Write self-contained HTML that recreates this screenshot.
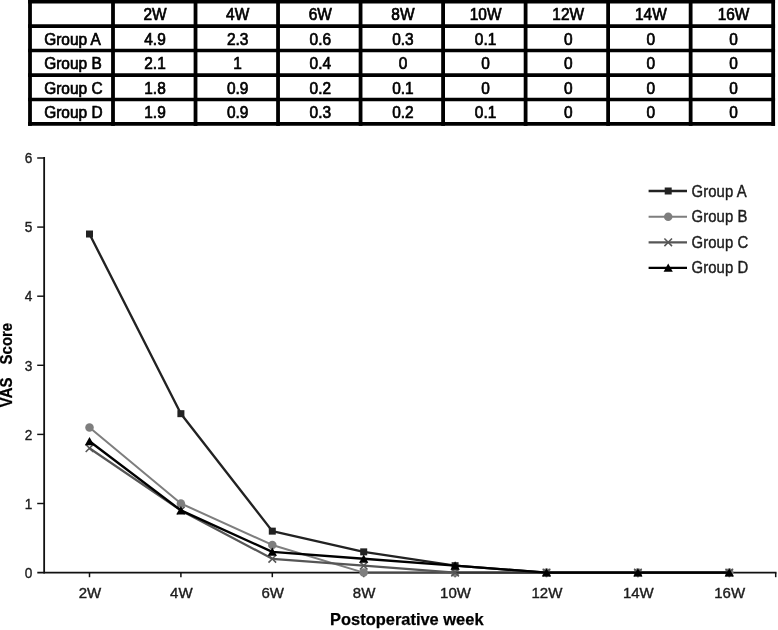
<!DOCTYPE html>
<html><head><meta charset="utf-8"><title>VAS Score</title>
<style>
html,body{margin:0;padding:0;background:#fff;}
body{width:778px;height:630px;overflow:hidden;}
svg{display:block;}
.tb{font-family:"Liberation Sans",sans-serif;font-size:16.7px;fill:#000;stroke:#000;stroke-width:0.7px;}
.ax{font-family:"Liberation Sans",sans-serif;font-size:14.8px;fill:#1c1c1c;stroke:#1c1c1c;stroke-width:0.4px;}
.lg{font-family:"Liberation Sans",sans-serif;font-size:15.6px;letter-spacing:0.1px;fill:#1c1c1c;stroke:#1c1c1c;stroke-width:0.4px;}
.tt{font-family:"Liberation Sans",sans-serif;font-weight:bold;fill:#000;stroke:#000;stroke-width:0.25px;}
</style></head><body>
<svg width="778" height="630" viewBox="0 0 778 630">
<rect width="778" height="630" fill="#fff"/>

<g stroke="#000" stroke-width="3.80" fill="none">
<line x1="30.00" y1="0" x2="30.00" y2="125.85"/>
<line x1="113.00" y1="0" x2="113.00" y2="125.85"/>
<line x1="195.52" y1="0" x2="195.52" y2="125.85"/>
<line x1="278.04" y1="0" x2="278.04" y2="125.85"/>
<line x1="360.56" y1="0" x2="360.56" y2="125.85"/>
<line x1="443.08" y1="0" x2="443.08" y2="125.85"/>
<line x1="525.60" y1="0" x2="525.60" y2="125.85"/>
<line x1="608.12" y1="0" x2="608.12" y2="125.85"/>
<line x1="690.64" y1="0" x2="690.64" y2="125.85"/>
<line x1="773.16" y1="0" x2="773.16" y2="125.85"/>
</g><g stroke="#000" stroke-width="3.7" fill="none">
<line x1="28.10" y1="1.60" x2="775.06" y2="1.60"/>
<line x1="28.10" y1="26.10" x2="775.06" y2="26.10"/>
<line x1="28.10" y1="50.50" x2="775.06" y2="50.50"/>
<line x1="28.10" y1="75.10" x2="775.06" y2="75.10"/>
<line x1="28.10" y1="99.50" x2="775.06" y2="99.50"/>
<line x1="28.10" y1="123.95" x2="775.06" y2="123.95"/>
</g>
<g class="tb">
<text transform="translate(155.00,20.40) scale(0.925,1)" text-anchor="middle">2W</text>
<text transform="translate(237.65,20.40) scale(0.925,1)" text-anchor="middle">4W</text>
<text transform="translate(320.30,20.40) scale(0.925,1)" text-anchor="middle">6W</text>
<text transform="translate(402.95,20.40) scale(0.925,1)" text-anchor="middle">8W</text>
<text transform="translate(485.60,20.40) scale(0.925,1)" text-anchor="middle">10W</text>
<text transform="translate(568.25,20.40) scale(0.925,1)" text-anchor="middle">12W</text>
<text transform="translate(650.90,20.40) scale(0.925,1)" text-anchor="middle">14W</text>
<text transform="translate(733.55,20.40) scale(0.925,1)" text-anchor="middle">16W</text>
<text transform="translate(44.2,44.80) scale(0.925,1)">Group A</text>
<text transform="translate(155.00,44.80) scale(0.925,1)" text-anchor="middle">4.9</text>
<text transform="translate(237.65,44.80) scale(0.925,1)" text-anchor="middle">2.3</text>
<text transform="translate(320.30,44.80) scale(0.925,1)" text-anchor="middle">0.6</text>
<text transform="translate(402.95,44.80) scale(0.925,1)" text-anchor="middle">0.3</text>
<text transform="translate(485.60,44.80) scale(0.925,1)" text-anchor="middle">0.1</text>
<text transform="translate(568.25,44.80) scale(0.925,1)" text-anchor="middle">0</text>
<text transform="translate(650.90,44.80) scale(0.925,1)" text-anchor="middle">0</text>
<text transform="translate(733.55,44.80) scale(0.925,1)" text-anchor="middle">0</text>
<text transform="translate(44.2,69.20) scale(0.925,1)">Group B</text>
<text transform="translate(155.00,69.20) scale(0.925,1)" text-anchor="middle">2.1</text>
<text transform="translate(237.65,69.20) scale(0.925,1)" text-anchor="middle">1</text>
<text transform="translate(320.30,69.20) scale(0.925,1)" text-anchor="middle">0.4</text>
<text transform="translate(402.95,69.20) scale(0.925,1)" text-anchor="middle">0</text>
<text transform="translate(485.60,69.20) scale(0.925,1)" text-anchor="middle">0</text>
<text transform="translate(568.25,69.20) scale(0.925,1)" text-anchor="middle">0</text>
<text transform="translate(650.90,69.20) scale(0.925,1)" text-anchor="middle">0</text>
<text transform="translate(733.55,69.20) scale(0.925,1)" text-anchor="middle">0</text>
<text transform="translate(44.2,93.70) scale(0.925,1)">Group C</text>
<text transform="translate(155.00,93.70) scale(0.925,1)" text-anchor="middle">1.8</text>
<text transform="translate(237.65,93.70) scale(0.925,1)" text-anchor="middle">0.9</text>
<text transform="translate(320.30,93.70) scale(0.925,1)" text-anchor="middle">0.2</text>
<text transform="translate(402.95,93.70) scale(0.925,1)" text-anchor="middle">0.1</text>
<text transform="translate(485.60,93.70) scale(0.925,1)" text-anchor="middle">0</text>
<text transform="translate(568.25,93.70) scale(0.925,1)" text-anchor="middle">0</text>
<text transform="translate(650.90,93.70) scale(0.925,1)" text-anchor="middle">0</text>
<text transform="translate(733.55,93.70) scale(0.925,1)" text-anchor="middle">0</text>
<text transform="translate(44.2,118.10) scale(0.925,1)">Group D</text>
<text transform="translate(155.00,118.10) scale(0.925,1)" text-anchor="middle">1.9</text>
<text transform="translate(237.65,118.10) scale(0.925,1)" text-anchor="middle">0.9</text>
<text transform="translate(320.30,118.10) scale(0.925,1)" text-anchor="middle">0.3</text>
<text transform="translate(402.95,118.10) scale(0.925,1)" text-anchor="middle">0.2</text>
<text transform="translate(485.60,118.10) scale(0.925,1)" text-anchor="middle">0.1</text>
<text transform="translate(568.25,118.10) scale(0.925,1)" text-anchor="middle">0</text>
<text transform="translate(650.90,118.10) scale(0.925,1)" text-anchor="middle">0</text>
<text transform="translate(733.55,118.10) scale(0.925,1)" text-anchor="middle">0</text>
</g>
<g stroke="#111" stroke-width="1.8" fill="none">
<line x1="44.15" y1="157.05" x2="44.15" y2="573.55"/>
<line x1="37.3" y1="572.60" x2="776.5" y2="572.60"/>
<line x1="37.2" y1="503.50" x2="44.15" y2="503.50" stroke-width="1.45"/>
<line x1="37.2" y1="434.40" x2="44.15" y2="434.40" stroke-width="1.45"/>
<line x1="37.2" y1="365.30" x2="44.15" y2="365.30" stroke-width="1.45"/>
<line x1="37.2" y1="296.20" x2="44.15" y2="296.20" stroke-width="1.45"/>
<line x1="37.2" y1="227.10" x2="44.15" y2="227.10" stroke-width="1.45"/>
<line x1="37.2" y1="158.00" x2="44.15" y2="158.00" stroke-width="1.45"/>
<line x1="89.50" y1="572.60" x2="89.50" y2="577.20" stroke-width="1.5"/>
<line x1="180.90" y1="572.60" x2="180.90" y2="577.20" stroke-width="1.5"/>
<line x1="272.30" y1="572.60" x2="272.30" y2="577.20" stroke-width="1.5"/>
<line x1="363.70" y1="572.60" x2="363.70" y2="577.20" stroke-width="1.5"/>
<line x1="455.10" y1="572.60" x2="455.10" y2="577.20" stroke-width="1.5"/>
<line x1="546.50" y1="572.60" x2="546.50" y2="577.20" stroke-width="1.5"/>
<line x1="637.90" y1="572.60" x2="637.90" y2="577.20" stroke-width="1.5"/>
<line x1="729.30" y1="572.60" x2="729.30" y2="577.20" stroke-width="1.5"/>
<line x1="775.7" y1="572.60" x2="775.7" y2="577.20" stroke-width="1.5"/>
</g>
<g class="ax">
<text font-size="15.5" transform="translate(32.3,577.85) scale(0.88,1)" text-anchor="end">0</text>
<text font-size="15.5" transform="translate(32.3,508.75) scale(0.88,1)" text-anchor="end">1</text>
<text font-size="15.5" transform="translate(32.3,439.65) scale(0.88,1)" text-anchor="end">2</text>
<text font-size="15.5" transform="translate(32.3,370.55) scale(0.88,1)" text-anchor="end">3</text>
<text font-size="15.5" transform="translate(32.3,301.45) scale(0.88,1)" text-anchor="end">4</text>
<text font-size="15.5" transform="translate(32.3,232.35) scale(0.88,1)" text-anchor="end">5</text>
<text font-size="15.5" transform="translate(32.3,163.25) scale(0.88,1)" text-anchor="end">6</text>
<text x="89.90" y="598.4" font-size="15" text-anchor="middle">2W</text>
<text x="181.30" y="598.4" font-size="15" text-anchor="middle">4W</text>
<text x="272.70" y="598.4" font-size="15" text-anchor="middle">6W</text>
<text x="364.10" y="598.4" font-size="15" text-anchor="middle">8W</text>
<text x="455.50" y="598.4" font-size="15" text-anchor="middle">10W</text>
<text x="546.90" y="598.4" font-size="15" text-anchor="middle">12W</text>
<text x="638.30" y="598.4" font-size="15" text-anchor="middle">14W</text>
<text x="729.70" y="598.4" font-size="15" text-anchor="middle">16W</text>
</g>
<polyline points="89.50,234.01 180.90,413.67 272.30,531.14 363.70,551.87 455.10,565.69 546.50,572.60 637.90,572.60 729.30,572.60" fill="none" stroke="#222" stroke-width="2.35" stroke-linejoin="round"/>
<rect x="86.00" y="230.51" width="7" height="7" fill="#222"/>
<rect x="177.40" y="410.17" width="7" height="7" fill="#222"/>
<rect x="268.80" y="527.64" width="7" height="7" fill="#222"/>
<rect x="360.20" y="548.37" width="7" height="7" fill="#222"/>
<rect x="451.60" y="562.19" width="7" height="7" fill="#222"/>
<rect x="543.00" y="569.10" width="7" height="7" fill="#222"/>
<rect x="634.40" y="569.10" width="7" height="7" fill="#222"/>
<rect x="725.80" y="569.10" width="7" height="7" fill="#222"/>
<polyline points="89.50,427.49 180.90,503.50 272.30,544.96 363.70,572.60 455.10,572.60 546.50,572.60 637.90,572.60 729.30,572.60" fill="none" stroke="#7e7e7e" stroke-width="2.00" stroke-linejoin="round"/>
<line x1="363.70" y1="572.60" x2="729.30" y2="572.60" stroke="#111" stroke-width="1.6" opacity="0.5"/>
<circle cx="89.50" cy="427.49" r="4.25" fill="#7e7e7e"/>
<circle cx="180.90" cy="503.50" r="4.25" fill="#7e7e7e"/>
<circle cx="272.30" cy="544.96" r="4.25" fill="#7e7e7e"/>
<circle cx="363.70" cy="572.60" r="4.25" fill="#7e7e7e"/>
<circle cx="455.10" cy="572.60" r="4.25" fill="#7e7e7e"/>
<circle cx="546.50" cy="572.60" r="4.25" fill="#7e7e7e"/>
<circle cx="637.90" cy="572.60" r="4.25" fill="#7e7e7e"/>
<circle cx="729.30" cy="572.60" r="4.25" fill="#7e7e7e"/>
<polyline points="89.50,448.22 180.90,510.41 272.30,558.78 363.70,565.69 455.10,572.60 546.50,572.60 637.90,572.60 729.30,572.60" fill="none" stroke="#565656" stroke-width="2.20" stroke-linejoin="round"/>
<line x1="455.10" y1="572.60" x2="729.30" y2="572.60" stroke="#111" stroke-width="1.6" opacity="0.5"/>
<path d="M85.70 444.42l7.6 7.6m0 -7.6l-7.6 7.6" stroke="#565656" stroke-width="1.55" fill="none"/>
<path d="M177.10 506.61l7.6 7.6m0 -7.6l-7.6 7.6" stroke="#565656" stroke-width="1.55" fill="none"/>
<path d="M268.50 554.98l7.6 7.6m0 -7.6l-7.6 7.6" stroke="#565656" stroke-width="1.55" fill="none"/>
<path d="M359.90 561.89l7.6 7.6m0 -7.6l-7.6 7.6" stroke="#565656" stroke-width="1.55" fill="none"/>
<path d="M451.30 568.80l7.6 7.6m0 -7.6l-7.6 7.6" stroke="#565656" stroke-width="1.55" fill="none"/>
<path d="M542.70 568.80l7.6 7.6m0 -7.6l-7.6 7.6" stroke="#565656" stroke-width="1.55" fill="none"/>
<path d="M634.10 568.80l7.6 7.6m0 -7.6l-7.6 7.6" stroke="#565656" stroke-width="1.55" fill="none"/>
<path d="M725.50 568.80l7.6 7.6m0 -7.6l-7.6 7.6" stroke="#565656" stroke-width="1.55" fill="none"/>
<polyline points="89.50,441.31 180.90,510.41 272.30,551.87 363.70,558.78 455.10,565.69 546.50,572.60 637.90,572.60 729.30,572.60" fill="none" stroke="#000" stroke-width="2.35" stroke-linejoin="round"/>
<path d="M89.50 436.91l4.6 8.4h-9.2z" fill="#000"/>
<path d="M180.90 506.01l4.6 8.4h-9.2z" fill="#000"/>
<path d="M272.30 547.47l4.6 8.4h-9.2z" fill="#000"/>
<path d="M363.70 554.38l4.6 8.4h-9.2z" fill="#000"/>
<path d="M455.10 561.29l4.6 8.4h-9.2z" fill="#000"/>
<path d="M546.50 568.20l4.6 8.4h-9.2z" fill="#000"/>
<path d="M637.90 568.20l4.6 8.4h-9.2z" fill="#000"/>
<path d="M729.30 568.20l4.6 8.4h-9.2z" fill="#000"/>
<line x1="648.6" y1="191.00" x2="687" y2="191.00" stroke="#222" stroke-width="2.35"/>
<rect x="664.70" y="187.50" width="7" height="7" fill="#222"/>
<text class="lg" transform="translate(691.5,196.50) scale(0.955,1)">Group A</text>
<line x1="648.6" y1="216.70" x2="687" y2="216.70" stroke="#7e7e7e" stroke-width="2.00"/>
<circle cx="668.20" cy="216.70" r="4.25" fill="#7e7e7e"/>
<text class="lg" transform="translate(691.5,222.20) scale(0.955,1)">Group B</text>
<line x1="648.6" y1="242.30" x2="687" y2="242.30" stroke="#565656" stroke-width="2.20"/>
<path d="M664.40 238.50l7.6 7.6m0 -7.6l-7.6 7.6" stroke="#565656" stroke-width="1.55" fill="none"/>
<text class="lg" transform="translate(691.5,247.80) scale(0.955,1)">Group C</text>
<line x1="648.6" y1="267.80" x2="687" y2="267.80" stroke="#000" stroke-width="2.35"/>
<path d="M668.20 263.40l4.6 8.4h-9.2z" fill="#000"/>
<text class="lg" transform="translate(691.5,273.30) scale(0.955,1)">Group D</text>
<text class="tt" font-size="16.45" x="406.8" y="625.4" text-anchor="middle">Postoperative week</text>
<text class="tt" font-size="16" xml:space="preserve" word-spacing="2.6" transform="translate(12.1,365) rotate(-90) scale(0.935,1)" text-anchor="middle">VAS  Score</text>
</svg></body></html>
